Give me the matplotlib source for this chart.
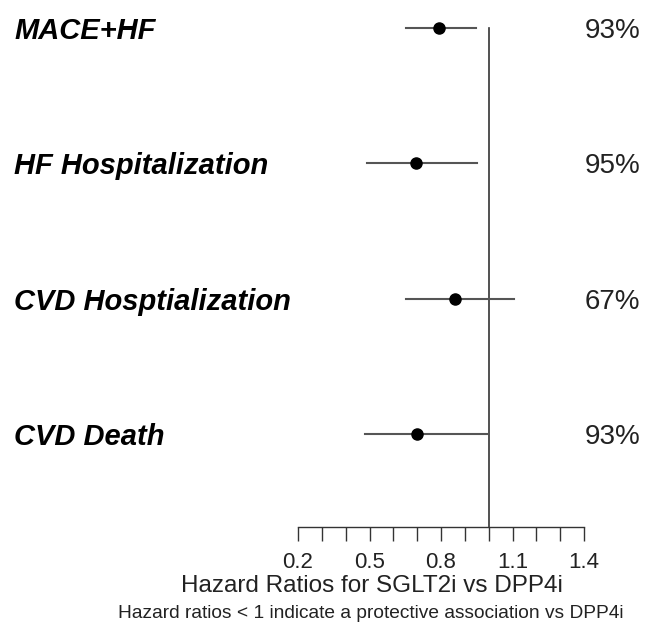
import numpy as np
import matplotlib.pyplot as plt

outcomes = ['MACE+HF', 'HF Hospitalization', 'CVD Hosptialization', 'CVD Death']
hr = [0.79, 0.695, 0.86, 0.70]
ci_low = [0.653, 0.49, 0.653, 0.48]
ci_high = [0.946, 0.953, 1.106, 0.992]
probs = ['93%', '95%', '67%', '93%']
xtick_minor = np.round(np.arange(0.2, 1.41, 0.1), 1)
xtick_labels = [0.2, 0.5, 0.8, 1.1, 1.4]

W, H = 646, 622
fig = plt.figure(figsize=(W / 100, H / 100), dpi=100)
plt.rcParams['font.family'] = ['Liberation Sans', 'DejaVu Sans']

# axes placed so 0.2..1.4 spans pixels 298..584 and the x axis sits at y=527
ax_left, ax_right = 298 / W, 584 / W
ax_bottom, ax_top = 1 - 527 / H, 1 - 10 / H
ax = fig.add_axes([ax_left, ax_bottom, ax_right - ax_left, ax_top - ax_bottom])

row_px = 135.3
ypos = [4, 3, 2, 1]
y_bottom = 1 - 93 / row_px
y_top = 4 + 18 / row_px
ax.set_xlim(0.2, 1.4)
ax.set_ylim(y_bottom, y_top)

for y, lo, hi, h in zip(ypos, ci_low, ci_high, hr):
    ax.plot([lo, hi], [y, y], color='#555555', lw=1.5, clip_on=False, zorder=2)
    ax.plot(h, y, 'o', color='black', ms=8, clip_on=False, zorder=3)

ax.plot([1.0, 1.0], [y_bottom, 4], color='#333333', lw=1.2, zorder=1)

for s in ['top', 'right', 'left']:
    ax.spines[s].set_visible(False)
ax.spines['bottom'].set_color('#333333')
ax.spines['bottom'].set_linewidth(1.0)
ax.set_yticks([])
ax.set_xticks(xtick_minor)
ax.set_xticklabels([f'{v:.1f}' if v in xtick_labels else '' for v in xtick_minor])
ax.tick_params(axis='x', length=10, width=1.0, color='#333333', labelsize=16, pad=8,
               labelcolor='#222222')

# outcome names and probabilities in figure pixels
for y, name, p in zip(ypos, outcomes, probs):
    _, ypix = ax.transData.transform((0, y))
    fig.text(14 / W, ypix / H, name, fontsize=21, fontweight='bold', fontstyle='italic',
             ha='left', va='center_baseline')
    fig.text(640 / W, ypix / H, p, fontsize=20, ha='right', va='center_baseline',
             color='#222222')

fig.text(371.5 / W, 1 - 584 / H, 'Hazard Ratios for SGLT2i vs DPP4i', fontsize=17.5,
         ha='center', va='center_baseline', color='#222222')
fig.text(370.5 / W, 1 - 611 / H, 'Hazard ratios < 1 indicate a protective association vs DPP4i',
         fontsize=13.8, ha='center', va='center_baseline', color='#222222')

fig.savefig('out.png', dpi=100)
